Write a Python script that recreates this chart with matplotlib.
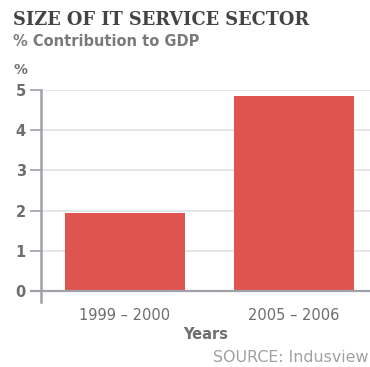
import matplotlib
matplotlib.use("Agg")
import matplotlib.pyplot as plt

periods = ["1999 – 2000", "2005 – 2006"]
gdp_share = [1.95, 4.85]
y_ticks = [0, 1, 2, 3, 4, 5]

bar_color = "#e05450"
text_gray = "#6e6e6e"
axis_gray = "#a0a0a8"
grid_gray = "#e2e2e2"

fig = plt.figure(figsize=(3.70, 3.67), dpi=100)
ax = fig.add_axes([41 / 370, 65 / 367, 329 / 370, 212 / 367])

x = list(range(len(periods)))
ax.bar(x, gdp_share, width=0.71, color=bar_color, zorder=3)

ax.set_xlim(-0.497, 1.45)
ax.set_ylim(-0.27, 5)
ax.set_yticks(y_ticks)
ax.set_yticklabels([str(t) for t in y_ticks])
ax.set_xticks(x)
ax.set_xticklabels(periods)

for t in y_ticks[1:]:
    ax.axhline(t, color=grid_gray, lw=1.2, zorder=1)
ax.axhline(0, color=axis_gray, lw=1.6, zorder=4, xmin=-0.03, clip_on=False)

for s in ["top", "right", "bottom"]:
    ax.spines[s].set_visible(False)
ax.spines["left"].set_color(axis_gray)
ax.spines["left"].set_linewidth(1.8)

ax.tick_params(axis="y", length=8, width=1.2, color=axis_gray,
               labelcolor=text_gray, labelsize=10.5, pad=3)
ax.tick_params(axis="x", length=0, labelcolor=text_gray, labelsize=10.5, pad=4)
for lbl in ax.get_yticklabels():
    lbl.set_fontweight("bold")

ax.set_xlabel("Years", color=text_gray, fontsize=10.5, fontweight="bold", labelpad=3)

fig.text(13 / 370, 1 - 20 / 367, "SIZE OF IT SERVICE SECTOR", fontsize=12.8,
         fontweight="heavy", family="DejaVu Serif", color="#444444", va="center")
fig.text(13 / 370, 1 - 42 / 367, "% Contribution to GDP", fontsize=10.5,
         fontweight="bold", color="#7a7a7a", va="center")
fig.text(13 / 370, 1 - 70 / 367, "%", fontsize=10, fontweight="bold",
         color=text_gray, va="center")
fig.text(213 / 370, 1 - 357 / 367, "SOURCE: Indusview", fontsize=11.4,
         color="#a0a0a0", ha="left", va="center")

fig.savefig("out.png", dpi=100)
